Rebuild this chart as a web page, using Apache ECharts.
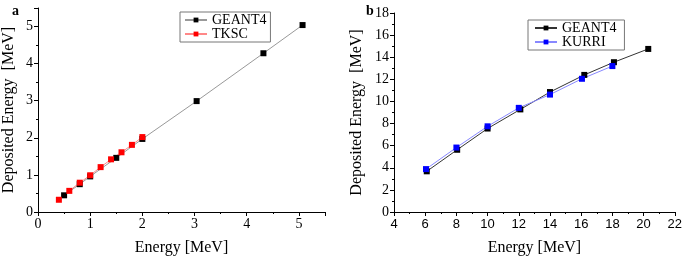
<!DOCTYPE html>
<html>
<head>
<meta charset="utf-8">
<script src="https://cdn.jsdelivr.net/npm/echarts@6/dist/echarts.min.js"></script>
<style>
  html, body { margin: 0; padding: 0; background: #fff; }
  #box { width: 685px; height: 261px; }
</style>
</head>
<body>
<div id="box"></div>
<script>
// panel a
var aGeantX = [0.5, 0.8, 1.0, 1.5, 2.0, 3.04, 4.32, 5.07];
var aGeantY = [0.45, 0.75, 0.96, 1.46, 1.97, 2.99, 4.28, 5.04];
var aTkscX = [0.4, 0.6, 0.8, 1.0, 1.2, 1.4, 1.6, 1.8, 2.0];
var aTkscY = [0.33, 0.57, 0.79, 0.99, 1.21, 1.42, 1.61, 1.81, 2.02];
// panel b
var bGeantX = [6.1, 8.05, 10.0, 12.1, 14.0, 16.2, 18.1, 20.3];
var bGeantY = [3.68, 5.63, 7.55, 9.28, 10.85, 12.4, 13.55, 14.75];
var bKurriX = [6.05, 8.0, 10.0, 12.0, 14.0, 16.05, 18.0];
var bKurriY = [3.88, 5.83, 7.75, 9.42, 10.62, 12.05, 13.2];

function pairs(xs, ys) {
  return xs.map(function (x, i) { return [x, ys[i]]; });
}

var serif = "'Liberation Serif', 'Times New Roman', serif";
var sans = "'Liberation Sans', Arial, sans-serif";
var legendText = { fontFamily: serif, fontSize: 14, fontWeight: "normal", color: "#000" };
var chart = echarts.init(document.getElementById("box"));

function axisBase(extra) {
  var o = {
    type: "value",
    axisLine: { show: true, onZero: false, lineStyle: { color: "#000", width: 1 } },
    axisTick: { show: true, length: 4, lineStyle: { color: "#000" } },
    minorTick: { show: true, splitNumber: 2, length: 2, lineStyle: { color: "#000" } },
    splitLine: { show: false },
    axisLabel: { color: "#000", fontFamily: serif, fontSize: 14, margin: 5, showMaxLabel: false },
    nameTextStyle: { color: "#000", fontFamily: serif, fontSize: 16, fontWeight: "normal" }
  };
  return Object.assign(o, extra);
}

var option = {
  backgroundColor: "#fff",
  animation: false,
  textStyle: { fontFamily: serif },
  title: [
    { text: "a", left: 7, top: -1, textStyle: { fontFamily: serif, fontWeight: "bold", fontSize: 14, color: "#000" } },
    { text: "b", left: 361, top: -1, textStyle: { fontFamily: serif, fontWeight: "bold", fontSize: 14, color: "#000" } }
  ],
  grid: [
    { left: 37, top: 8, width: 288, height: 212 },
    { left: 394, top: 13, width: 286, height: 208 }
  ],
  xAxis: [
    axisBase({ gridIndex: 0, min: 0, max: 5.5, interval: 1, name: "Energy [MeV]",
      nameLocation: "middle", nameGap: 28 }),
    axisBase({ gridIndex: 1, min: 4, max: 22, interval: 2, name: "Energy [MeV]",
      nameLocation: "middle", nameGap: 28,
      axisLabel: { color: "#000", fontFamily: sans, fontSize: 13, margin: 6 } })
  ],
  yAxis: [
    axisBase({ gridIndex: 0, min: 0, max: 5.5, interval: 1, name: "Deposited Energy  [MeV]",
      nameLocation: "middle", nameGap: 21 }),
    axisBase({ gridIndex: 1, min: 0, max: 18, interval: 2, name: "Deposited Energy  [MeV]",
      nameLocation: "middle", nameGap: 29,
      axisLabel: { color: "#000", fontFamily: serif, fontSize: 14, margin: 5 } })
  ],
  legend: [
    {
      left: 180, top: 12, orient: "vertical", itemGap: 0, itemWidth: 22, itemHeight: 6,
      padding: [1, 4, 1, 4], borderColor: "#777", borderWidth: 1,
      textStyle: legendText,
      data: [
        { name: "GEANT4", itemStyle: { color: "#000" }, lineStyle: { color: "#999" }, textStyle: legendText },
        { name: "TKSC", itemStyle: { color: "#f00" }, lineStyle: { color: "#f88" }, textStyle: legendText }
      ]
    },
    {
      left: 528, top: 20, orient: "vertical", itemGap: 0, itemWidth: 22, itemHeight: 6,
      padding: [1, 8, 1, 6], borderColor: "#777", borderWidth: 1,
      textStyle: legendText,
      data: [
        { name: "GEANT4", itemStyle: { color: "#000" }, lineStyle: { color: "#333" }, textStyle: legendText },
        { name: "KURRI", itemStyle: { color: "#00f" }, lineStyle: { color: "#88f" }, textStyle: legendText }
      ]
    }
  ],
  series: [
    {
      name: "GEANT4", type: "line", xAxisIndex: 0, yAxisIndex: 0,
      data: pairs(aGeantX, aGeantY), symbol: "rect", symbolSize: 6,
      itemStyle: { color: "#000" }, lineStyle: { color: "#999", width: 1 }
    },
    {
      name: "TKSC", type: "line", xAxisIndex: 0, yAxisIndex: 0,
      data: pairs(aTkscX, aTkscY), symbol: "rect", symbolSize: 6,
      itemStyle: { color: "#f00" }, lineStyle: { color: "#f88", width: 1 }
    },
    {
      name: "GEANT4", type: "line", xAxisIndex: 1, yAxisIndex: 1,
      data: pairs(bGeantX, bGeantY), symbol: "rect", symbolSize: 6,
      itemStyle: { color: "#000" }, lineStyle: { color: "#333", width: 1 }
    },
    {
      name: "KURRI", type: "line", xAxisIndex: 1, yAxisIndex: 1,
      data: pairs(bKurriX, bKurriY), symbol: "rect", symbolSize: 6,
      itemStyle: { color: "#00f" }, lineStyle: { color: "#88f", width: 1 }
    }
  ]
};
chart.setOption(option);
</script>
</body>
</html>
